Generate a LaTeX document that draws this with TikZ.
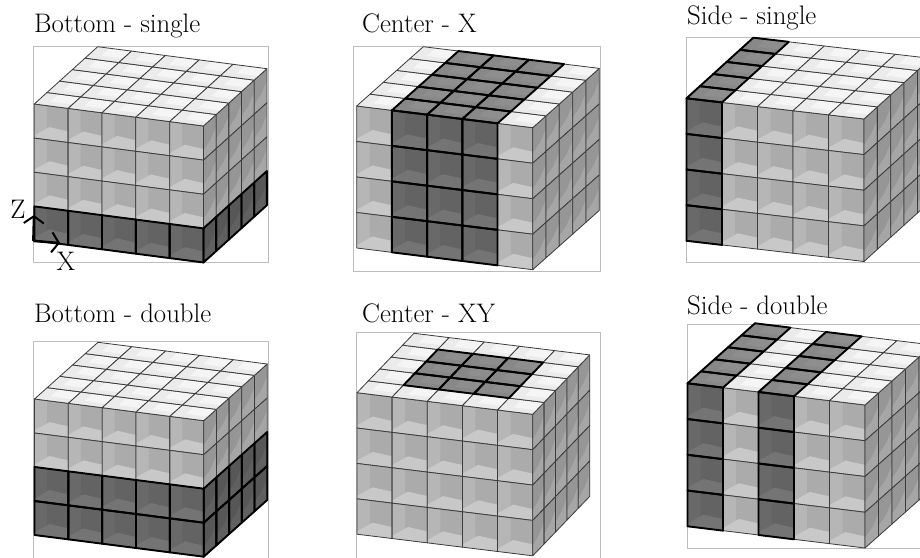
\documentclass[tikz,border=0pt]{standalone}
\usetikzlibrary{arrows.meta}
\definecolor{wallA}{HTML}{B6B6B6}
\definecolor{wallB}{HTML}{ABABAB}
\definecolor{floorC}{HTML}{C8C8C8}
\definecolor{sideA}{HTML}{969696}
\definecolor{sideB}{HTML}{A6A6A6}
\definecolor{topA}{HTML}{EBEBEB}
\definecolor{topB}{HTML}{F5F5F5}
\definecolor{gridC}{HTML}{3C3C3C}
\definecolor{frameC}{HTML}{BDBDBD}
\tikzset{
  grid line/.style={draw=gridC,line width=0.8pt,line join=round},
  sel line/.style={draw=black,line width=1.9pt,line join=round},
  panel frame/.style={draw=frameC,line width=0.7pt,fill=white},
  title/.style={anchor=base west,inner sep=0pt,font=\fontsize{26.8}{30}\selectfont},
  axis label/.style={inner sep=0pt,font=\fontsize{26.8}{30}\selectfont},
  axis arrow/.style={line width=2.4pt,-{Straight Barb[length=7pt,width=20pt,line width=2pt]}}
}
\newcommand{\setgeom}[7]{%
  \pgfmathsetmacro\gAx{#1}\pgfmathsetmacro\gAy{557-#2}%
  \pgfmathsetmacro\gBx{#3}\pgfmathsetmacro\gBy{557-#4}%
  \pgfmathsetmacro\gKx{#5}\pgfmathsetmacro\gKy{557-#6}%
  \pgfmathsetmacro\gV{-(#7)/4}%
  \pgfmathsetmacro\gux{(\gBx-\gAx)/5}\pgfmathsetmacro\guy{(\gBy-\gAy)/5}%
  \pgfmathsetmacro\gwx{(\gKx-\gBx)/5+(\gBx-\gAx)/5*0+(\gAx-\gKx)/5*0}%
  \pgfmathsetmacro\gwx{(\gKx-\gAx)/5}\pgfmathsetmacro\gwy{(\gKy-\gAy)/5}%
}
\def\unitcell{(0,0) -- (1,0) -- (1,1) -- (0,1) -- cycle}
\newcommand{\panel}[7]{% x0 y0 x1 y1 front top side
  \draw[panel frame] (#1,557-#2) rectangle (#3,557-#4);
  % front face
  \begin{scope}[shift={(\gAx,\gAy)},x={(\gux pt,\guy pt)},y={(0pt,\gV pt)}]
    \foreach \cellI in {0,...,4}{\foreach \cellK in {0,...,3}{
      \pgfmathsetmacro\selop{0.42*(#5)}
      \begin{scope}[shift={(\cellI,\cellK)}]
        \fill[wallA] \unitcell;
        \fill[wallB] (.37,0) -- (1,0) -- (1,.66) -- (.37,.66) -- cycle;
        \fill[floorC] (0,.92) -- (.45,.62) -- (1,.68) -- (1,1) -- (0,1) -- cycle;
        \fill[black,fill opacity=\selop] \unitcell;
        \path[grid line] \unitcell;
      \end{scope}}}
  \end{scope}
  % side face
  \begin{scope}[shift={(\gBx,\gBy)},x={(\gwx pt,\gwy pt)},y={(0pt,\gV pt)}]
    \foreach \cellJ in {0,...,4}{\foreach \cellK in {0,...,3}{
      \pgfmathsetmacro\selop{0.42*(#7)}
      \begin{scope}[shift={(\cellJ,\cellK)}]
        \fill[sideA] \unitcell;
        \fill[sideB] (0,.72) -- (.55,.6) -- (1,.35) -- (1,1) -- (0,1) -- cycle;
        \fill[black,fill opacity=\selop] \unitcell;
        \path[grid line] \unitcell;
      \end{scope}}}
  \end{scope}
  % top face
  \begin{scope}[shift={(\gAx,\gAy)},x={(\gux pt,\guy pt)},y={(\gwx pt,\gwy pt)}]
    \foreach \cellI in {0,...,4}{\foreach \cellJ in {0,...,4}{
      \pgfmathsetmacro\selop{0.42*(#6)}
      \begin{scope}[shift={(\cellI,\cellJ)}]
        \fill[topA] \unitcell;
        \fill[topB] (.35,.35) -- (1,.35) -- (1,1) -- (.35,1) -- cycle;
        \fill[black,fill opacity=\selop] \unitcell;
        \path[grid line] \unitcell;
      \end{scope}}}
  \end{scope}
  % thick outlines of the selected cells
  \begin{scope}[shift={(\gAx,\gAy)},x={(\gux pt,\guy pt)},y={(0pt,\gV pt)}]
    \foreach \cellI in {0,...,4}{\foreach \cellK in {0,...,3}{
      \pgfmathsetmacro\selop{1*(#5)}
      \begin{scope}[shift={(\cellI,\cellK)}]
      \path[sel line,draw opacity=\selop] \unitcell;
      \end{scope}}}
  \end{scope}
  \begin{scope}[shift={(\gBx,\gBy)},x={(\gwx pt,\gwy pt)},y={(0pt,\gV pt)}]
    \foreach \cellJ in {0,...,4}{\foreach \cellK in {0,...,3}{
      \pgfmathsetmacro\selop{1*(#7)}
      \begin{scope}[shift={(\cellJ,\cellK)}]
      \path[sel line,draw opacity=\selop] \unitcell;
      \end{scope}}}
  \end{scope}
  \begin{scope}[shift={(\gAx,\gAy)},x={(\gux pt,\guy pt)},y={(\gwx pt,\gwy pt)}]
    \foreach \cellI in {0,...,4}{\foreach \cellJ in {0,...,4}{
      \pgfmathsetmacro\selop{1*(#6)}
      \begin{scope}[shift={(\cellI,\cellJ)}]
      \path[sel line,draw opacity=\selop] \unitcell;
      \end{scope}}}
  \end{scope}
}
\begin{document}
\begin{tikzpicture}[x=1pt,y=1pt]
\useasboundingbox (0,0) rectangle (920,557);
\clip (0,0) rectangle (920,557);
% Bottom - single
\setgeom{34.3}{104}{203.5}{126}{97.7}{46.7}{136.5}
\panel{33.3}{46.7}{268.3}{262.3}{\cellK>=3}{0}{\cellK>=3}
% Center - X
\setgeom{356.7}{106}{532.7}{127.7}{423.3}{46.7}{142}
\panel{353.7}{46.7}{600.7}{271}{\cellI>=1&&\cellI<=3}{\cellI>=1&&\cellI<=3}{0}
% Side - single
\setgeom{686.5}{98.3}{864}{119}{753.3}{37.7}{142.5}
\panel{686}{37.7}{925}{262.7}{\cellI==0}{\cellI==0}{0}
% Bottom - double
\setgeom{34.5}{399}{203.7}{420.7}{98}{342.3}{136}
\panel{33.3}{341}{268.5}{565}{\cellK>=2}{0}{\cellK>=2}
% Center - XY
\setgeom{357}{392.7}{532.7}{414.3}{414}{333.3}{141.5}
\panel{356}{332.3}{600}{565}{0}{\cellI>=1&&\cellI<=3&&\cellJ>=1&&\cellJ<=3}{0}
% Side - double
\setgeom{687.5}{383.3}{865}{405}{755}{323.3}{143}
\panel{687.3}{324}{925}{548.7}{\cellI==0||\cellI==2}{\cellI==0||\cellI==2}{0}
% Titles
\node[title] (t1) at (34,557-32.7) {Bottom - single};
\node[title] (t2) at (362,557-33) {Center - X};
\node[title] (t3) at (687,557-25) {Side - single};
\node[title] (t4) at (34,557-322.7) {Bottom - double};
\node[title] (t5) at (362,557-323) {Center - XY};
\node[title] (t6) at (687,557-315) {Side - double};
% Axes
\coordinate (origin) at (33.3,557-241);
\coordinate (ztip) at (34,557-215);
\coordinate (xtip) at (60,557-243);
\draw[axis arrow] (origin) -- (ztip);
\draw[axis arrow] (origin) -- (xtip);
\node[axis label] (zlabel) at (18,557-209) {Z};
\node[axis label] (xlabel) at (66,557-261) {X};
\end{tikzpicture}
\end{document}
